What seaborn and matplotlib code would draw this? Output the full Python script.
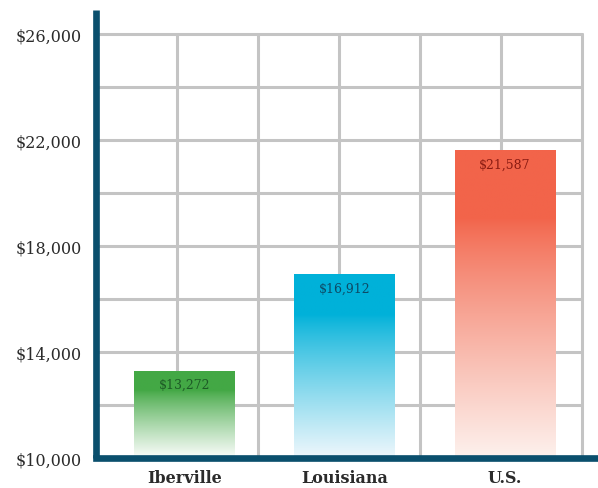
import numpy as np
import pandas as pd
import matplotlib
matplotlib.use("Agg")
import matplotlib.pyplot as plt
from matplotlib.colors import to_rgb
from matplotlib.ticker import FuncFormatter
import seaborn as sns

# Per-capita income by area
areas = ["Iberville", "Louisiana", "U.S."]
income = [13272, 16912, 21587]
y_ticks = [10000, 14000, 18000, 22000, 26000]

top_colors = ["#43a845", "#00b1d9", "#f2644a"]
bottom_colors = ["#fbfdfb", "#eef7fc", "#fdf1ed"]
label_colors = ["#1d5a26", "#0d4a66", "#8a1b12"]

df = pd.DataFrame({"area": areas, "income": income})

sns.set_theme(style="white")
plt.rcParams["font.family"] = ["DejaVu Serif"]

fig = plt.figure(figsize=(5.98, 4.89), dpi=100)
ax = fig.add_axes([96 / 598, 30 / 489, 1 - 96 / 598, (459 - 11) / 489])

sns.barplot(data=df, x="area", y="income", ax=ax, width=0.625,
            color="white", saturation=1, zorder=3)

ymin, ymax = 10000, 26900
ax.set_ylim(ymin, ymax)
ax.set_xlim(-0.55, 2.58)

# Gradient fill for each bar
for patch, top_c, bot_c, lab_c, val in zip(ax.patches, top_colors,
                                           bottom_colors, label_colors, income):
    x0 = patch.get_x()
    w = patch.get_width()
    patch.set_alpha(0)
    t = np.linspace(0, 1, 256)[:, None]  # 0 at top, 1 at bottom
    frac = np.clip((t - 0.22) / 0.78, 0, 1) ** 0.85
    c0 = np.array(to_rgb(top_c))
    c1 = np.array(to_rgb(bot_c))
    grad = c0[None, None, :] * (1 - frac[..., None]) + c1[None, None, :] * frac[..., None]
    grad = np.repeat(grad, 2, axis=1)
    ax.imshow(grad, extent=[x0, x0 + w, ymin, val], aspect="auto",
              origin="upper", zorder=3, interpolation="bilinear")
    ax.text(x0 + w / 2, val - 250, f"${val:,}", ha="center", va="top",
            fontsize=9, color=lab_c, zorder=4)

ax.set_ylim(ymin, ymax)
ax.set_xlim(-0.55, 2.58)

# Grid box
grid_c = "#c4c4c4"
grid_right = 2.48
x_fracs_right = (grid_right + 0.55) / (2.58 + 0.55)
for y in range(12000, 26001, 2000):
    ax.axhline(y, xmin=0, xmax=x_fracs_right, color=grid_c, lw=2.2, zorder=1)
top_frac = (26000 - ymin) / (ymax - ymin)
for xv in [-0.045, 0.46, 0.965, 1.47, 1.975, grid_right]:
    ax.axvline(xv, ymin=0, ymax=top_frac, color=grid_c, lw=2.2, zorder=1)

ax.set_yticks(y_ticks)
ax.yaxis.set_major_formatter(FuncFormatter(lambda v, p: f"${int(v):,}"))
ax.tick_params(axis="y", length=0, pad=10, labelsize=11.5, labelcolor="#2b2b2b")
ax.tick_params(axis="x", length=0, pad=8, labelsize=11.5, labelcolor="#2b2b2b")
for lab in ax.get_xticklabels():
    lab.set_fontweight("bold")
ax.set_xlabel("")
ax.set_ylabel("")

spine_c = "#0a4f6d"
for side in ["top", "right"]:
    ax.spines[side].set_visible(False)
for side in ["left", "bottom"]:
    ax.spines[side].set_color(spine_c)
    ax.spines[side].set_linewidth(4.8)
    ax.spines[side].set_zorder(5)
ax.spines["left"].set_capstyle("butt")
ax.spines["bottom"].set_capstyle("projecting")

fig.savefig("out.png", dpi=100, facecolor="white")
